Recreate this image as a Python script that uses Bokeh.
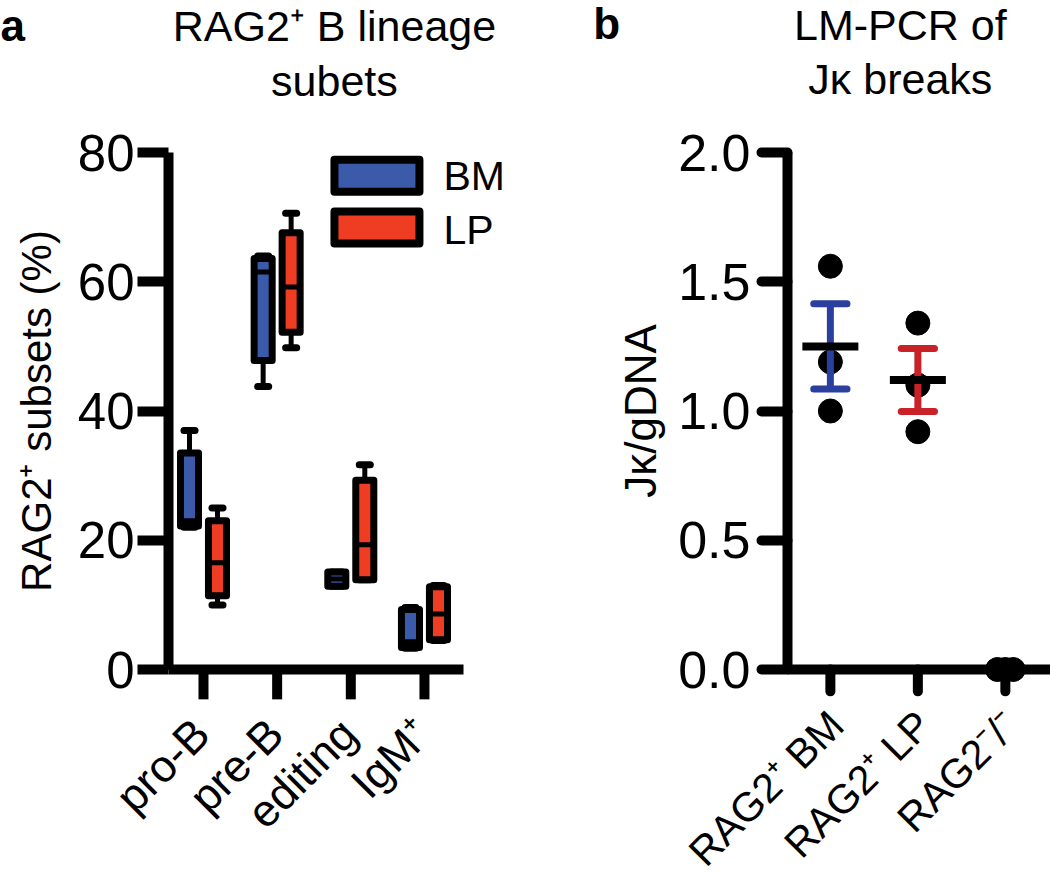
import math
from bokeh.plotting import figure
from bokeh.layouts import row
from bokeh.models import FixedTicker, PrintfTickFormatter, Range1d
from bokeh.core.properties import value
from bokeh.embed import file_html
from bokeh.resources import INLINE

FONT = "Liberation Sans"

# ---------------- Panel a data ----------------
subsets = ["pro-B", "pre-B", "editing", "IgM⁺"]
bm_low = [22.0, 43.8, 12.9, 3.3]
bm_q1 = [22.2, 47.8, 12.9, 3.4]
bm_med = [23.0, 61.5, 14.0, 4.3]
bm_q3 = [33.5, 63.6, 15.1, 9.3]
bm_high = [37.0, 64.0, 15.1, 9.6]

lp_low = [10.0, 49.8, 13.9, 4.5]
lp_q1 = [11.4, 52.2, 13.9, 4.6]
lp_med = [16.5, 59.2, 19.3, 8.6]
lp_q3 = [23.0, 67.6, 29.3, 12.8]
lp_high = [25.0, 70.6, 31.7, 13.0]

# ---------------- Panel b data ----------------
groups = ["RAG2⁺ BM", "RAG2⁺ LP", "RAG2⁻/⁻"]
bm_vals = [1.56, 1.19, 1.00]
lp_vals = [1.34, 1.10, 0.92]
ko_vals = [0.0, 0.0, 0.0]

BLUE_A = "#3c5aaa"
RED_A = "#ef3d24"
BLUE_B = "#2a3f9e"
RED_B = "#c82128"


def style_axes(p, tick_out_y, cap):
    p.grid.visible = False
    p.outline_line_color = None
    p.background_fill_color = "white"
    p.border_fill_color = "white"
    p.xaxis.visible = False
    ax = p.yaxis[0]
    ax.axis_line_width = 10
    ax.axis_line_color = "black"
    ax.major_tick_line_width = 10
    ax.major_tick_line_color = "black"
    ax.major_tick_line_cap = cap
    ax.major_tick_in = 0
    ax.major_tick_out = tick_out_y
    ax.minor_tick_line_color = None
    ax.major_label_text_font = FONT
    ax.major_label_text_color = "black"
    ax.axis_label_text_font = FONT
    ax.axis_label_text_font_style = "normal"
    ax.axis_label_text_color = "black"


def draw_xaxis(p, x0, x1, ticks, tick_len, cap):
    p.segment(x0=[x0], y0=[0], x1=[x1], y1=[0], line_width=10, line_color="black",
              level="overlay")
    p.segment(x0=ticks, y0=[0] * len(ticks), x1=ticks, y1=[-tick_len] * len(ticks),
              line_width=10, line_color="black", line_cap=cap, level="overlay")


def add_text(p, xs, ys, texts, size, align="left", angle=0.0, bold=False):
    p.text(x=xs, y=ys, text=texts, angle=angle, text_font=value(FONT),
           text_font_size=value(size), text_color="black", text_align=align,
           text_baseline="alphabetic", text_font_style="bold" if bold else "normal",
           level="overlay")


# ================= Panel a =================
XA0, XA1 = -0.475, 3.53
pa = figure(width=560, height=882, x_range=Range1d(XA0, XA1), y_range=Range1d(0, 80),
            output_backend="svg", toolbar_location=None,
            min_border_left=168, min_border_right=97, min_border_top=150, min_border_bottom=213)
style_axes(pa, 31, "butt")
pa.yaxis[0].ticker = FixedTicker(ticks=[0, 20, 40, 60, 80])
pa.yaxis[0].major_label_text_font_size = "51px"
pa.yaxis[0].major_label_standoff = 3
pa.yaxis[0].axis_label = "RAG2⁺ subsets (%)"
pa.yaxis[0].axis_label_text_font_size = "42px"
pa.yaxis[0].axis_label_standoff = 15

OFF = 0.19
BW = 0.245
CAP = 0.075
for vals, off, color in (((bm_low, bm_q1, bm_med, bm_q3, bm_high), -OFF, BLUE_A),
                         ((lp_low, lp_q1, lp_med, lp_q3, lp_high), OFF, RED_A)):
    lo, q1, med, q3, hi = vals
    xs = [i + off for i in range(len(subsets))]
    pa.segment(x0=xs, y0=q3, x1=xs, y1=hi, line_width=5, line_color="black")
    pa.segment(x0=xs, y0=q1, x1=xs, y1=lo, line_width=5, line_color="black")
    pa.segment(x0=[x - CAP for x in xs], y0=hi, x1=[x + CAP for x in xs], y1=hi,
               line_width=7, line_color="black", line_cap="round")
    pa.segment(x0=[x - CAP for x in xs], y0=lo, x1=[x + CAP for x in xs], y1=lo,
               line_width=7, line_color="black", line_cap="round")
    pa.vbar(x=xs, width=BW, bottom=q1, top=q3, fill_color=color, line_color="black",
            line_width=7, line_join="round")
    pa.segment(x0=[x - BW / 2 for x in xs], y0=med, x1=[x + BW / 2 for x in xs], y1=med,
               line_width=5, line_color="black")

draw_xaxis(pa, XA0, XA1, list(range(len(subsets))), 4.62, "butt")

# x tick labels (rotated)
add_text(pa, [i - 0.027 for i in range(len(subsets))], [-8.8] * len(subsets), subsets,
         "45px", align="right", angle=math.pi / 4)

# legend
pa.rect(x=[2.355, 2.355], y=[76.4, 68.4], width=1.154, height=4.93,
        fill_color=[BLUE_A, RED_A], line_color="black", line_width=8, line_join="round")
add_text(pa, [3.258, 3.258], [76.4, 67.95], ["BM", "LP"], "41px")

# titles
add_text(pa, [-2.756], [99.7], ["a"], "44px", bold=True)
add_text(pa, [1.778, 1.778], [99.54, 91.06], ["RAG2⁺ B lineage", "subets"], "43px", align="center")

# ================= Panel b =================
XB0, XB1 = -0.49, 2.516
pb = figure(width=490, height=882, x_range=Range1d(XB0, XB1), y_range=Range1d(0, 2.0),
            output_backend="svg", toolbar_location=None,
            min_border_left=227, min_border_right=0, min_border_top=152, min_border_bottom=209)
style_axes(pb, 26, "round")
pb.yaxis[0].ticker = FixedTicker(ticks=[0.0, 0.5, 1.0, 1.5, 2.0])
pb.yaxis[0].formatter = PrintfTickFormatter(format="%.1f")
pb.yaxis[0].major_label_text_font_size = "52px"
pb.yaxis[0].major_label_standoff = 11
pb.yaxis[0].axis_label = "Jκ/gDNA"
pb.yaxis[0].axis_label_text_font_size = "44px"
pb.yaxis[0].axis_label_standoff = 10

MEAN_HW = 0.32
ECAP_HW = 0.19
for gi, (vals, color) in enumerate(((bm_vals, BLUE_B), (lp_vals, RED_B))):
    n = len(vals)
    mean = sum(vals) / n
    sd = math.sqrt(sum((v - mean) ** 2 for v in vals) / (n - 1))
    sem = sd / math.sqrt(n)
    pb.scatter(x=[gi] * n, y=vals, size=24, fill_color="black", line_color="black")
    pb.segment(x0=[gi], y0=[mean - sem], x1=[gi], y1=[mean + sem], line_width=7, line_color=color)
    pb.segment(x0=[gi - ECAP_HW] * 2, y0=[mean - sem, mean + sem], x1=[gi + ECAP_HW] * 2,
               y1=[mean - sem, mean + sem], line_width=7, line_color=color, line_cap="round")
    pb.segment(x0=[gi - MEAN_HW], y0=[mean], x1=[gi + MEAN_HW], y1=[mean], line_width=8,
               line_color="black")

draw_xaxis(pb, XB0, XB1, list(range(len(groups))), 0.0845, "round")

ko_x = [2 - 0.09, 2.0, 2 + 0.09]
pb.scatter(x=ko_x, y=ko_vals, size=24, fill_color="black", line_color="black", level="overlay")

# x tick labels (rotated)
add_text(pb, [i + 0.069 for i in range(len(groups))], [-0.188] * len(groups), groups,
         "41px", align="right", angle=math.pi / 4)

add_text(pb, [-2.709], [2.499], ["b"], "44px", bold=True)
add_text(pb, [0.8, 0.8], [2.495, 2.284], ["LM-PCR of", "Jκ breaks"], "43px", align="center")

layout = row(pa, pb)
open("out.html", "w").write(file_html(layout, INLINE))
